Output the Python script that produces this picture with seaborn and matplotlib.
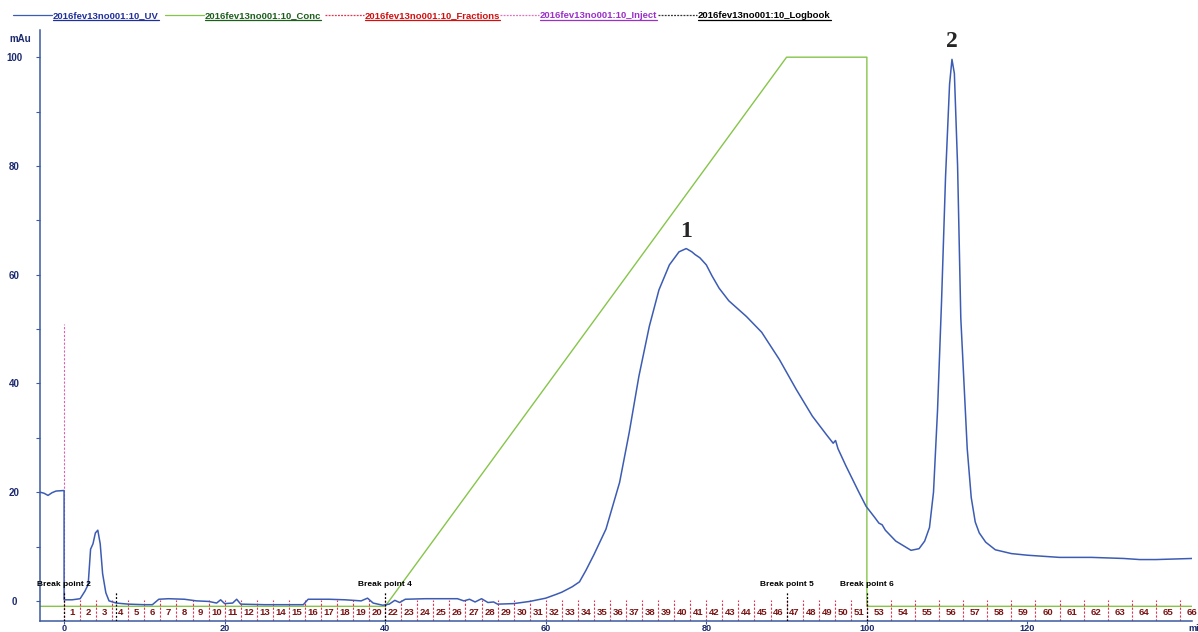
import matplotlib
matplotlib.use("Agg")
import matplotlib.pyplot as plt
import seaborn as sns
import pandas as pd
from matplotlib.lines import Line2D
from matplotlib.ticker import MultipleLocator

# ---------------- data ----------------
# UV absorbance trace (time in min, absorbance in mAU)
uv_time = [-3.0, -2.5, -2.0, -1.5, -1.0, 0.0, 0.0, 1.0, 2.0, 2.6, 3.0, 3.3, 3.6, 3.9, 4.2,
           4.5, 4.8, 5.2, 5.6, 6.5, 8.0, 10.0, 11.0, 11.8, 13.0, 15.0, 16.5, 18.0, 19.0,
           19.5, 20.0, 21.0, 21.5, 22.0, 25.0, 27.0, 29.8, 30.4, 33.0, 35.0, 37.0, 37.8,
           38.5, 39.7, 40.5, 41.2, 41.8, 42.5, 45.0, 49.0, 49.8, 50.5, 51.2, 52.0, 52.8,
           53.5, 54.0, 56.0, 58.0, 60.0, 61.3, 62.0, 63.3, 64.2, 65.0, 66.0, 67.5, 69.2,
           70.4, 71.6, 72.9, 74.1, 75.4, 76.6, 77.5, 78.2, 78.6, 79.2, 80.0, 80.7, 81.6,
           82.8, 85.0, 86.9, 89.1, 91.2, 93.2, 95.0, 95.8, 96.1, 96.4, 97.4, 99.0, 99.9,
           101.0, 101.5, 101.9, 102.3, 103.6, 104.5, 105.5, 106.5, 107.2, 107.8, 108.3,
           108.8, 109.3, 109.8, 110.3, 110.6, 110.9, 111.3, 111.7, 112.1, 112.5, 113.0,
           113.5, 114.0, 114.8, 116.0, 118.0, 120.0, 124.0, 128.0, 132.0, 134.0, 136.0,
           140.5]
uv_mau = [20.0, 19.8, 19.4, 19.9, 20.2, 20.3, 0.2, 0.2, 0.4, 1.8, 3.0, 9.5, 10.5, 12.5, 13.0,
          10.5, 5.0, 1.5, 0.0, -0.4, -0.6, -0.7, -0.7, 0.3, 0.4, 0.3, 0.0, -0.1, -0.4,
          0.2, -0.5, -0.4, 0.3, -0.6, -0.7, -0.7, -0.7, 0.3, 0.3, 0.2, 0.0, 0.5,
          -0.4, -0.8, -0.6, 0.1, -0.3, 0.3, 0.4, 0.4, 0.0, 0.3, -0.2, 0.4, -0.3,
          -0.2, -0.6, -0.5, -0.1, 0.5, 1.2, 1.6, 2.6, 3.5, 5.6, 8.5, 13.2, 21.8,
          31.0, 41.3, 50.5, 57.2, 61.8, 64.2, 64.8, 64.2, 63.7, 63.1, 61.8, 59.8, 57.5,
          55.2, 52.3, 49.4, 44.4, 38.9, 34.0, 30.5, 29.0, 29.5, 28.0, 24.8, 20.0, 17.4,
          15.3, 14.3, 14.0, 13.0, 11.0, 10.2, 9.3, 9.6, 11.0, 13.5, 20.0,
          35.0, 55.0, 78.0, 95.0, 99.6, 97.0, 80.0, 52.0, 40.0, 28.0, 19.0,
          14.5, 12.5, 10.8, 9.4, 8.7, 8.4, 8.0, 8.0, 7.8, 7.6, 7.6,
          7.8]

# Concentration of eluent B (%)
conc_time = [-3.0, 40.0, 90.0, 100.0, 100.0, 140.5]
conc_pct = [-1.0, -1.0, 100.0, 100.0, -1.0, -1.0]

# Fraction collector marks
frac_edges = [0, 2, 4, 6, 8, 10, 12, 14, 16, 18, 20, 22, 24, 26, 28, 30, 32, 34, 36, 38, 40,
              42, 44, 46, 48, 50, 52, 54, 56, 58, 60, 62, 64, 66, 68, 70, 72, 74, 76, 78, 80,
              82, 84, 86, 88, 90, 92, 94, 96, 98, 100,
              103, 106, 109, 112, 115, 118, 121, 124, 127, 130, 133, 136, 139, 142]
frac_numbers = ["1", "2", "3", "4", "5", "6", "7", "8", "9", "10", "11", "12", "13", "14",
                "15", "16", "17", "18", "19", "20",
                "22", "23", "24", "25", "26", "27", "28", "29", "30", "31", "32", "33", "34",
                "35", "36", "37", "38", "39", "40", "41", "42", "43", "44", "45", "46", "47",
                "48", "49", "50", "51",
                "53", "54", "55", "56", "57", "58", "59", "60", "61", "62", "63", "64", "65",
                "66"]

# Logbook events
bp_time = [0.0, 40.0, 90.0, 100.0]
bp_labels = ["Break point 2", "Break point 4", "Break point 5", "Break point 6"]
logbook_extra = [6.5]
inject_time = 0.0
inject_height = 51.0

# Peak annotations
peak_time = [77.5, 110.6]
peak_mau = [64.8, 99.6]
peak_names = ["1", "2"]

x_ticks = [0, 20, 40, 60, 80, 100, 120]

legend_names = ["2016fev13no001:10_UV", "2016fev13no001:10_Conc",
                "2016fev13no001:10_Fractions", "2016fev13no001:10_Inject",
                "2016fev13no001:10_Logbook"]

# ---------------- style ----------------
sns.set_style("white")
plt.rcParams["font.family"] = ["Liberation Sans", "DejaVu Sans"]

UV_COLOR = "#3c5cb4"
CONC_COLOR = "#86c54a"
FRAC_COLOR = "#e2334f"
FRAC_TEXT = "#7a1414"
AXIS_COLOR = "#3b5aa0"
NAVY = "#1c2a6e"

fig = plt.figure(figsize=(11.98, 6.32), dpi=100)
ax = fig.add_axes([40 / 1198, 11 / 632, 1152 / 1198, 591 / 632])

uv_df = pd.DataFrame({"time": uv_time, "mAU": uv_mau})
conc_df = pd.DataFrame({"time": conc_time, "conc": conc_pct})

sns.lineplot(data=conc_df, x="time", y="conc", ax=ax, color=CONC_COLOR, lw=1.0,
             estimator=None, sort=False, zorder=2)

# injection mark
ax.vlines(inject_time, 0, inject_height, colors="#e060b0", linestyles=(0, (2, 1.5)),
          lw=0.8, zorder=1)

sns.lineplot(data=uv_df, x="time", y="mAU", ax=ax, color=UV_COLOR, lw=1.1,
             estimator=None, sort=False, zorder=3)

ax.set_xlim(-3.0, 140.5)
ax.set_ylim(-3.7, 105.0)

# fraction marks
ax.vlines(frac_edges, -3.7, 0.2, colors=FRAC_COLOR, linestyles=(0, (2, 1.5)), lw=0.8,
          zorder=2)
for lo, hi, name in zip(frac_edges[:-1], frac_edges[1:], frac_numbers):
    ax.text((lo + hi) / 2, -2.2, name, ha="center", va="center", fontsize=6.8,
            fontweight="bold", color=FRAC_TEXT, zorder=4)

# logbook marks
ax.vlines(bp_time + logbook_extra, -3.7, 1.8, colors="black", linestyles=(0, (1.5, 1.5)),
          lw=0.9, zorder=4)
for t, lab in zip(bp_time, bp_labels):
    ax.text(t, 3.0, lab, ha="center", va="center", fontsize=6.0, fontweight="bold",
            color="black", zorder=5)

# peak numbers
for t, v, name in zip(peak_time, peak_mau, peak_names):
    ax.annotate(name, (t, v), xytext=(0, 5), textcoords="offset points", ha="center",
                va="bottom", fontsize=17, fontweight="bold", family="Liberation Serif")

# axes
for side in ["top", "right"]:
    ax.spines[side].set_visible(False)
for side in ["left", "bottom"]:
    ax.spines[side].set_color(AXIS_COLOR)
    ax.spines[side].set_linewidth(1.1)

ax.set_xticks(x_ticks)
ax.yaxis.set_major_locator(MultipleLocator(20))
ax.yaxis.set_minor_locator(MultipleLocator(10))
ax.tick_params(axis="y", which="both", direction="out", length=3, width=0.8,
               color=AXIS_COLOR, left=True)
ax.tick_params(axis="y", which="major", pad=15.5, labelsize=7, labelcolor=NAVY)
ax.tick_params(axis="x", which="major", direction="out", length=2, width=0.8,
               color=AXIS_COLOR, bottom=True, pad=0.0, labelsize=6.6, labelcolor=NAVY)
for lab in ax.get_yticklabels():
    lab.set_fontweight("bold")
    lab.set_horizontalalignment("center")
for lab in ax.get_xticklabels():
    lab.set_fontweight("bold")
ax.set_xlabel("")
ax.set_ylabel("")
ax.text(-0.027, 0.985, "mAu", transform=ax.transAxes, ha="left", va="center",
        fontsize=7, fontweight="bold", color=NAVY)
ax.text(0.9965, -0.005, "min", transform=ax.transAxes, ha="left", va="top",
        fontsize=6.6, fontweight="bold", color=NAVY)

# legend strip along the top
legend_styles = [
    (UV_COLOR, "-", "#1f2f9a"),
    (CONC_COLOR, "-", "#1d5e1d"),
    (FRAC_COLOR, (0, (1.5, 1)), "#d01010"),
    ("#e070c0", (0, (1.5, 1)), "#9a30c8"),
    ("#333333", (0, (1.5, 1)), "#000000"),
]
legend_x = [13, 165, 325, 500, 658]
legend_y = 1 - 16 / 632
texts = []
for x0, name, (lc, ls, tc) in zip(legend_x, legend_names, legend_styles):
    fig.add_artist(Line2D([x0 / 1198, (x0 + 39) / 1198], [legend_y + 0.002] * 2,
                          transform=fig.transFigure, color=lc, ls=ls, lw=0.9))
    t = fig.text((x0 + 40) / 1198, legend_y, name, ha="left", va="center", fontsize=6.8,
                 fontweight="bold", color=tc)
    texts.append((t, tc))

fig.canvas.draw()
renderer = fig.canvas.get_renderer()
inv = fig.transFigure.inverted()
for t, tc in texts:
    bb = t.get_window_extent(renderer).transformed(inv)
    fig.add_artist(Line2D([bb.x0, bb.x1], [bb.y0 + 0.001] * 2, transform=fig.transFigure,
                          color=tc, lw=0.9))

fig.savefig("out.png", dpi=100)
